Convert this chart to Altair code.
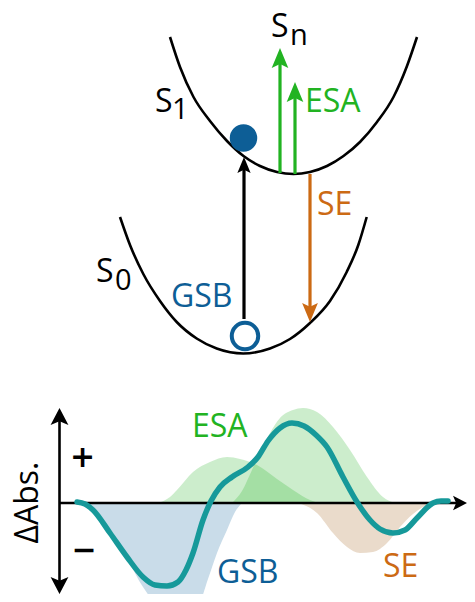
import altair as alt
import pandas as pd

# ----------------------------------------------------------------- data
# Figure units: x to the right, y downward.

# potential-energy curves
S1_X = [170, 180, 193.5, 210, 227, 243.5, 260, 277, 293.5, 310, 327, 343.5, 360, 377, 393.5, 407, 417]
S1_Y = [37, 67, 97, 121, 141, 156, 166, 172, 174, 172, 166, 156, 142, 122, 97, 66, 37]
S0_X = [120, 130, 143.3, 160, 176.7, 196.7, 216.7, 243.3, 270, 290, 310, 330, 346.7, 358.3, 366.7]
S0_Y = [217, 245, 274, 301, 322, 338.5, 348.5, 353.5, 348.5, 339, 323, 301, 272, 245, 217]

# transitions (vertical arrows): x, tail y, tip y, head length, colour key
ARROW_X = [244, 280, 295, 310]
ARROW_TAIL = [319, 173, 174, 174]
ARROW_TIP = [157, 48, 82, 322]
ARROW_HEAD = [16, 20, 20, 19]
ARROW_COLOR = ["black", "green", "green", "orange"]

# populations: filled (excited) and empty (hole)
POP_X = [243.5, 245]
POP_Y = [138, 336]

# difference spectrum: x positions and ΔAbs (positive = up) relative to zero line
ZERO_Y = 503
GSB_X = [82, 95, 110, 127, 143, 155, 170, 185, 200, 208, 217, 227, 235, 242]
GSB_V = [0, -6, -28, -55, -84, -99, -104, -102, -97, -76, -50, -27, -9, 0]
ESA1_X = [158, 170, 177, 193, 210, 227, 240, 257, 277, 293, 310, 318]
ESA1_V = [0, 6, 13, 31, 41, 46, 44, 38, 24, 13, 3, 0]
ESA2_X = [232, 242, 252, 262, 270, 280, 293, 303, 317, 333, 350, 367, 383, 395]
ESA2_V = [0, 12, 33, 55, 70, 85, 93, 95, 91, 76, 53, 26, 6, 0]
SE_X = [298, 317, 333, 347, 360, 373, 387, 400, 413, 425, 435]
SE_V = [0, -10, -30, -44, -50, -49, -40, -24, -11, -3, 0]
SUM_X = [77, 85, 93, 110, 127, 143, 155, 167, 178, 186, 193, 203, 211, 220, 232, 248,
         258, 268, 280, 292, 304, 316, 327, 343, 357, 370, 380, 393, 405, 417, 433, 441, 448]
SUM_V = [1, -1, -7, -30, -54, -74, -82, -83, -79, -67, -50, -17, 2, 16, 26, 36,
         46, 62, 75, 80, 77, 68, 56, 26, 1, -17, -26, -30, -27, -15, 0, 2, 2]

# spectrum axes: vertical double arrow and horizontal arrow
VAXIS_X = 59.5
VAXIS_TIPS = [408, 594]
HAXIS_START = 59
HAXIS_TIP = 467

# labels
LABEL_TEXT = ["S", "n", "S", "1", "S", "0", "ESA", "SE", "GSB", "ESA", "GSB", "SE"]
LABEL_X = [271, 290, 155, 172, 96, 115, 305, 317, 171, 192, 217, 383]
LABEL_Y = [37, 45, 112, 119, 282, 290, 112, 215, 307, 437, 583, 577]
LABEL_SIZE = [32, 29, 32, 29, 32, 29, 32, 32, 32, 32, 32, 32]
LABEL_COLOR = ["black", "black", "black", "black", "black", "black",
               "green", "orange", "blue", "green", "blue", "orange"]
SIGN_TEXT = ["+", "\u2212"]
SIGN_X = [82.5, 84]
SIGN_Y = [458, 551]
YLABEL = "\u0394Abs."
YLABEL_POS = (37.5, 502.5)

# ----------------------------------------------------------------- style
COL = {"black": "#000000", "green": "#22b322", "orange": "#cc6a14",
       "blue": "#0d5e96", "teal": "#16999a"}
W, H = 459, 586
xs = alt.Scale(domain=[8, 8 + W], nice=False, zero=False)
ys = alt.Scale(domain=[8, 8 + H], nice=False, zero=False, reverse=True)
HEAD_SHAPE = "M0,-1L0.83,1L0,0.6L-0.83,1Z"
AXIS_HEAD_SHAPE = "M0,-1L1.05,1L0,0.55L-1.05,1Z"


def X(f="x"):
    return alt.X(f"{f}:Q", scale=xs, axis=None)


def Y(f="y"):
    return alt.Y(f"{f}:Q", scale=ys, axis=None)


# ----------------------------------------------------------------- frames
def band(xv, vv):
    return pd.DataFrame({"x": xv, "y": [ZERO_Y - v for v in vv], "y0": ZERO_Y})


curves = pd.concat([
    pd.DataFrame({"x": S1_X, "y": S1_Y, "id": "S1"}),
    pd.DataFrame({"x": S0_X, "y": S0_Y, "id": "S0"}),
])

shafts, heads = [], []
for x, tail, tip, L, c in zip(ARROW_X, ARROW_TAIL, ARROW_TIP, ARROW_HEAD, ARROW_COLOR):
    d = 1 if tip > tail else -1
    center = tip - d * L / 2
    shafts.append({"x": x, "y": tail, "x2": x, "y2": center, "color": COL[c]})
    heads.append({"x": x, "y": center, "angle": 180 if d == 1 else 0,
                  "size": L * L, "color": COL[c]})
shafts = pd.DataFrame(shafts)
heads = pd.DataFrame(heads)

AL = 17
HL = 14
axis_lines = pd.DataFrame([
    {"x": VAXIS_X, "y": VAXIS_TIPS[0] + AL / 2, "x2": VAXIS_X, "y2": VAXIS_TIPS[1] - AL / 2},
    {"x": HAXIS_START, "y": ZERO_Y, "x2": HAXIS_TIP - HL / 2, "y2": ZERO_Y},
])
axis_heads = pd.DataFrame([
    {"x": VAXIS_X, "y": VAXIS_TIPS[0] + AL / 2, "angle": 0, "size": AL * AL},
    {"x": VAXIS_X, "y": VAXIS_TIPS[1] - AL / 2, "angle": 180, "size": AL * AL},
    {"x": HAXIS_TIP - HL / 2, "y": ZERO_Y, "angle": 90, "size": HL * HL},
])

labels = pd.DataFrame({"x": LABEL_X, "y": LABEL_Y, "text": LABEL_TEXT,
                       "size": LABEL_SIZE, "color": [COL[c] for c in LABEL_COLOR]})
signs = pd.DataFrame({"x": SIGN_X, "y": SIGN_Y, "text": SIGN_TEXT})
ylab = pd.DataFrame({"x": [YLABEL_POS[0]], "y": [YLABEL_POS[1]], "text": [YLABEL]})
pops_full = pd.DataFrame({"x": [POP_X[0]], "y": [POP_Y[0]]})
pops_empty = pd.DataFrame({"x": [POP_X[1]], "y": [POP_Y[1]]})
sum_df = pd.DataFrame({"x": SUM_X, "y": [ZERO_Y - v for v in SUM_V]})

# ----------------------------------------------------------------- layers
def area(df, color, opacity):
    return alt.Chart(df).mark_area(interpolate="monotone", color=color,
                                   opacity=opacity).encode(
        x=X(), y=alt.Y("y:Q", scale=ys, axis=None, stack=None), y2="y0:Q")


layers = [
    area(band(GSB_X, GSB_V), "#c9dce9", 1),
    area(band(SE_X, SE_V), "#eadbcb", 1),
    area(band(ESA1_X, ESA1_V), COL["green"], 0.23),
    area(band(ESA2_X, ESA2_V), COL["green"], 0.23),
    alt.Chart(axis_lines).mark_rule(color="black", strokeWidth=2.6).encode(
        x=X(), y=Y(), x2="x2:Q", y2="y2:Q"),
    alt.Chart(axis_heads).mark_point(shape=AXIS_HEAD_SHAPE, filled=True, opacity=1,
                                     color="black", strokeWidth=0).encode(
        x=X(), y=Y(), angle=alt.Angle("angle:Q", scale=None),
        size=alt.Size("size:Q", scale=None)),
    alt.Chart(sum_df).mark_line(interpolate="monotone", color=COL["teal"],
                                strokeWidth=5.5, strokeCap="round").encode(x=X(), y=Y()),
    alt.Chart(curves).mark_line(interpolate="monotone", color="black",
                                strokeWidth=2.6).encode(x=X(), y=Y(), detail="id:N"),
    alt.Chart(shafts).mark_rule(strokeWidth=3.2).encode(
        x=X(), y=Y(), x2="x2:Q", y2="y2:Q",
        color=alt.Color("color:N", scale=None)),
    alt.Chart(heads).mark_point(shape=HEAD_SHAPE, filled=True, opacity=1,
                                strokeWidth=0).encode(
        x=X(), y=Y(), angle=alt.Angle("angle:Q", scale=None),
        size=alt.Size("size:Q", scale=None),
        color=alt.Color("color:N", scale=None)),
    alt.Chart(pops_full).mark_point(shape="circle", filled=True, opacity=1,
                                    color=COL["blue"], size=755, strokeWidth=0).encode(
        x=X(), y=Y()),
    alt.Chart(pops_empty).mark_point(shape="circle", filled=True, opacity=1,
                                     fill="white", stroke=COL["blue"], strokeWidth=4,
                                     size=700).encode(x=X(), y=Y()),
    alt.Chart(labels).mark_text(font="Open Sans", align="left",
                                baseline="alphabetic").encode(
        x=X(), y=Y(), text="text:N",
        size=alt.Size("size:Q", scale=None),
        color=alt.Color("color:N", scale=None)),
    alt.Chart(signs).mark_text(font="DejaVu Sans", fontWeight="bold", fontSize=30,
                               align="center", baseline="middle",
                               color="black").encode(x=X(), y=Y(), text="text:N"),
    alt.Chart(ylab).mark_text(font="Open Sans", fontSize=32, angle=270,
                              align="center", baseline="alphabetic",
                              color="black").encode(x=X(), y=Y(), text="text:N"),
]

chart = alt.layer(*layers).properties(
    width=W, height=H, padding=0, background="white",
    autosize=alt.AutoSizeParams(type="none"),
).configure_view(strokeWidth=0, stroke="transparent")

chart.save("out.html", embed_options={"renderer": "svg", "actions": False})
